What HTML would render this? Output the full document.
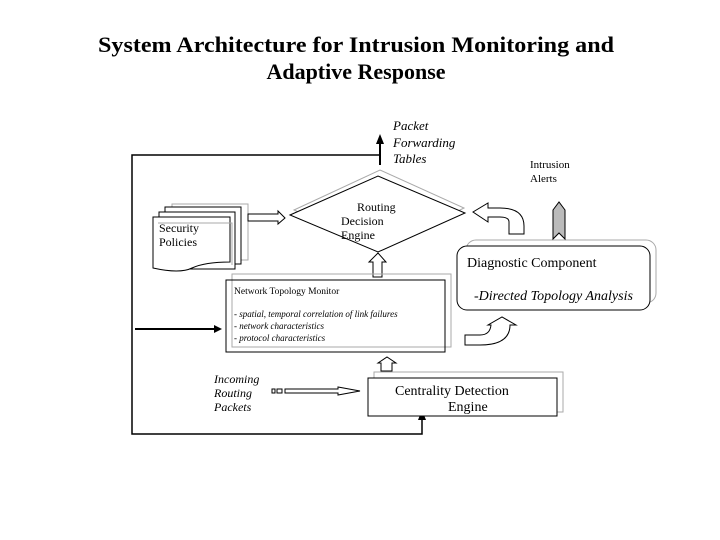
<!DOCTYPE html>
<html><head><meta charset="utf-8"><style>
html,body{margin:0;padding:0;background:#fff;width:720px;height:540px;overflow:hidden}
svg{display:block}
text{font-family:"Liberation Serif",serif;fill:#000}
</style></head><body>
<svg width="720" height="540" viewBox="0 0 720 540" xmlns="http://www.w3.org/2000/svg">
<text x="356" y="52" font-size="22" font-weight="bold" text-anchor="middle" textLength="516" lengthAdjust="spacingAndGlyphs">System Architecture for Intrusion Monitoring and</text>
<text x="356" y="79" font-size="22" font-weight="bold" text-anchor="middle">Adaptive Response</text>

<!-- feedback loop -->
<polyline points="380,155 132,155 132,434 422,434 422,418" fill="none" stroke="#000" stroke-width="1.5"/>
<polygon points="422,410 418,420 426,420" fill="#000"/>
<!-- packet arrow -->
<line x1="380" y1="165" x2="380" y2="142" stroke="#000" stroke-width="2"/>
<polygon points="380,134 376,144 384,144" fill="#000"/>
<text font-size="13" font-style="italic"><tspan x="393" y="130">Packet</tspan><tspan x="393" y="147">Forwarding</tspan><tspan x="393" y="163">Tables</tspan></text>
<!-- arrow to monitor -->
<line x1="135" y1="329" x2="216" y2="329" stroke="#000" stroke-width="2"/>
<polygon points="222,329 214,325 214,333" fill="#000"/>

<!-- security policies -->
<rect x="172" y="204" width="76" height="56" fill="#fff" stroke="#aaa"/>
<rect x="165" y="207" width="76" height="57" fill="#fff" stroke="#000"/>
<rect x="159" y="212" width="76" height="57" fill="#fff" stroke="#000"/>
<path d="M153,217 H230 V262 Q205,262 192,268 Q180,274 153,268 Z" fill="#fff" stroke="#000"/>
<path d="M158,223 H232 V265" fill="none" stroke="#aaa"/>
<text font-size="12"><tspan x="159" y="232">Security</tspan><tspan x="159" y="246">Policies</tspan></text>
<!-- hollow arrow to diamond -->
<path d="M248,214 H278 V211 L285,218 L278,224 V221 H248 Z" fill="#fff" stroke="#000"/>

<!-- diamond -->
<polygon points="294,210 380,170 464,208 380,250" fill="none" stroke="#aaa"/>
<polygon points="290,215 378,176 465,213 378,252" fill="#fff" stroke="#000"/>
<text font-size="12"><tspan x="357" y="211">Routing</tspan><tspan x="341" y="225">Decision</tspan><tspan x="341" y="239">Engine</tspan></text>

<!-- hollow up arrow monitor->diamond -->
<path d="M373,277 V262 H369 L378,253 L386,262 H382 V277 Z" fill="#fff" stroke="#000"/>

<!-- network topology monitor -->
<rect x="232" y="274" width="219" height="73" fill="none" stroke="#aaa"/>
<rect x="226" y="280" width="219" height="72" fill="none" stroke="#000"/>
<text x="234" y="294" font-size="9.5">Network Topology Monitor</text>
<text font-size="9" font-style="italic"><tspan x="234" y="317">- spatial, temporal correlation  of link failures</tspan><tspan x="234" y="329">- network characteristics</tspan><tspan x="234" y="341">- protocol characteristics</tspan></text>

<!-- up arrow centrality -> monitor -->
<path d="M381,371 V363 H378 L387,357 L396,363 H392 V371 Z" fill="#fff" stroke="#000"/>

<!-- centrality -->
<rect x="374" y="372" width="189" height="40" fill="none" stroke="#aaa"/>
<rect x="368" y="378" width="189" height="38" fill="#fff" stroke="#000"/>
<text font-size="14"><tspan x="395" y="395">Centrality Detection</tspan><tspan x="448" y="411">Engine</tspan></text>

<!-- incoming -->
<text font-size="12" font-style="italic"><tspan x="214" y="383">Incoming</tspan><tspan x="214" y="397">Routing</tspan><tspan x="214" y="411">Packets</tspan></text>
<rect x="272" y="389" width="3" height="4" fill="none" stroke="#000"/>
<rect x="277" y="389" width="5" height="4" fill="none" stroke="#000"/>
<path d="M285,389 H338 V387 L360,391 L338,395 V393 H285 Z" fill="#fff" stroke="#000"/>

<!-- diagnostic -->
<rect x="466" y="240" width="190" height="63" rx="10" fill="none" stroke="#aaa"/>
<rect x="457" y="246" width="193" height="64" rx="10" fill="#fff" stroke="#000"/>
<text x="467" y="267" font-size="14">Diagnostic Component</text>
<text x="474" y="300" font-size="14" font-style="italic">-Directed Topology Analysis</text>

<!-- curved arrow diag -> diamond -->
<path d="M509,234 V222 Q509,217 500,217 H488 V222 L473,212 L488,203 V208 H500 Q524,208 524,226 V234 Z" fill="#fff" stroke="#000"/>
<!-- gray alert arrow -->
<path d="M553,239 V210 L559,202 L565,210 V239 L559,233 Z" fill="#bbb" stroke="#000"/>
<text font-size="11"><tspan x="530" y="168">Intrusion</tspan><tspan x="530" y="182">Alerts</tspan></text>

<!-- curved arrow below -->
<path d="M465,335 H480 Q490,335 491,325 H488 L502,317 L516,325 H510 Q510,345 480,345 H465 Z" fill="#fff" stroke="#000"/>
</svg>
</body></html>
